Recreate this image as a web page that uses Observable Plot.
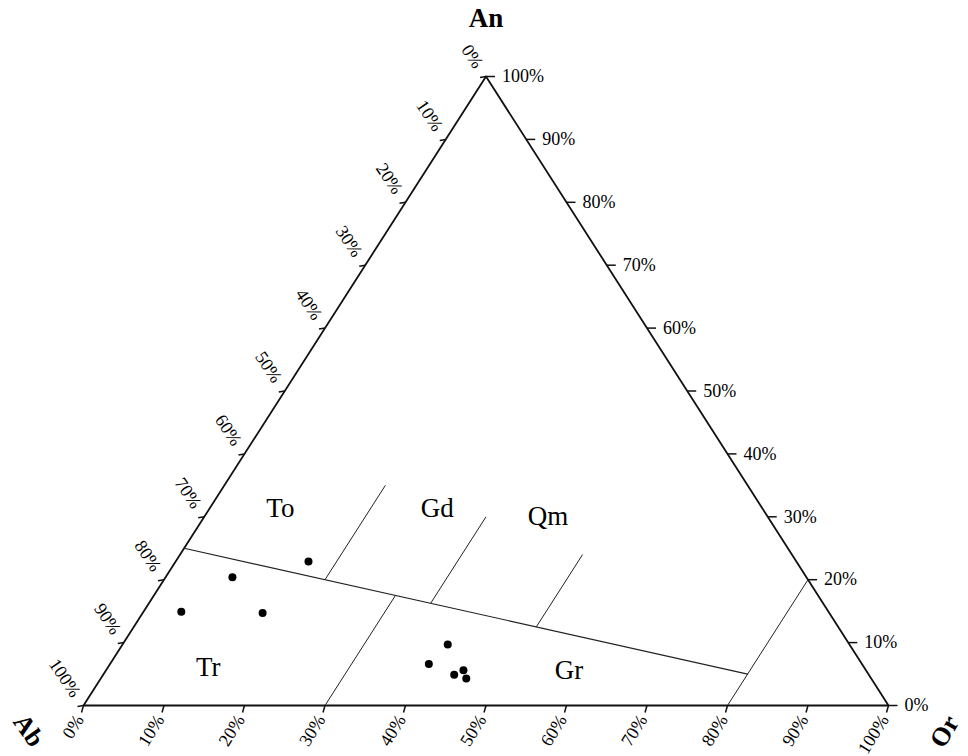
<!DOCTYPE html>
<html>
<head>
<meta charset="utf-8">
<script src="https://cdn.jsdelivr.net/npm/d3@7"></script>
<script src="https://cdn.jsdelivr.net/npm/@observablehq/plot@0.6"></script>
<style>
  html, body { margin: 0; padding: 0; background: #fff; }
  #chart svg { display: block; }
</style>
</head>
<body>
<div id="chart"></div>
<script>
// ---- data ----
const tickValues = [0, 10, 20, 30, 40, 50, 60, 70, 80, 90, 100];
const tickLabels = tickValues.map(v => v + "%");

// sample points (An %, Or %), Ab = 100 - An - Or
const sampleAn = [22.9, 20.4, 14.9, 14.7, 9.7, 6.6, 4.9, 5.6, 4.3];
const sampleOr = [16.5, 8.3, 4.7, 14.9, 40.4, 39.6, 43.6, 44.4, 45.4];

// main boundary line (An %, Or %)
const boundaryAn = [25, 5];
const boundaryOr = [0, 80];

// constant-Or field divider segments: Or %, An from, An to
const dividerOr = [80, 30, 20, 35, 50];
const dividerAnFrom = [0, 0, 20, 16.25, 12.5];
const dividerAnTo = [20, 17.5, 35, 30, 24];

// field names with positions (An %, Or %)
const fieldNames = ["To", "Gd", "Qm", "Tr", "Gr"];
const fieldAn = [31.3, 31.3, 30.0, 6.0, 5.6];
const fieldOr = [8.8, 28.3, 42.7, 12.5, 57.5];

const vertexNames = ["An", "Ab", "Or"];

// ---- ternary -> cartesian (unit triangle) ----
const tx = (an, or) => or / 100 + an / 200;
const ty = (an) => an / 100;

const W = 968, H = 756;
const mL = 83, mR = 80, mT = 76, mB = 51;
const px = 1 / (W - mL - mR);   // one pixel in x data units
const py = 1 / (H - mT - mB);   // one pixel in y data units

const triangle = [
  {x: tx(0, 0), y: ty(0)},
  {x: tx(0, 100), y: ty(0)},
  {x: tx(100, 0), y: ty(100)},
  {x: tx(0, 0), y: ty(0)}
];

const samples = sampleAn.map((an, i) => ({x: tx(an, sampleOr[i]), y: ty(an)}));
const boundary = boundaryAn.map((an, i) => ({x: tx(an, boundaryOr[i]), y: ty(an)}));
const dividers = dividerOr.map((or, i) => ({
  x1: tx(dividerAnFrom[i], or), y1: ty(dividerAnFrom[i]),
  x2: tx(dividerAnTo[i], or), y2: ty(dividerAnTo[i])
}));
const fields = fieldNames.map((n, i) => ({name: n, x: tx(fieldAn[i], fieldOr[i]), y: ty(fieldAn[i])}));

// axes
const bottom = tickValues.map((t, i) => ({x: tx(0, t), y: ty(0), label: tickLabels[i]}));
const left = tickValues.map((t, i) => ({x: tx(100 - t, 0), y: ty(100 - t), label: tickLabels[i]}));
const right = tickValues.map((t, i) => ({x: tx(t, 100 - t), y: ty(t), label: tickLabels[i]}));

const serif = "'Liberation Serif', 'DejaVu Serif', serif";

const chart = Plot.plot({
  width: W,
  height: H,
  marginLeft: mL,
  marginRight: mR,
  marginTop: mT,
  marginBottom: mB,
  x: {domain: [0, 1], axis: null},
  y: {domain: [0, 1], axis: null},
  style: {background: "#fff", fontFamily: serif, overflow: "visible"},
  marks: [
    // triangle frame
    Plot.line(triangle, {x: "x", y: "y", stroke: "#111", strokeWidth: 1.8}),
    // field boundaries
    Plot.line(boundary, {x: "x", y: "y", stroke: "#222", strokeWidth: 1.2}),
    Plot.link(dividers, {x1: "x1", y1: "y1", x2: "x2", y2: "y2", stroke: "#222", strokeWidth: 1}),
    // ticks
    Plot.link(bottom, {x1: "x", y1: "y", x2: d => d.x - 2 * px, y2: d => d.y - 7 * py, stroke: "#111", strokeWidth: 1.5}),
    Plot.link(left, {x1: "x", y1: "y", x2: d => d.x - 6 * px, y2: d => d.y - 1 * py, stroke: "#111", strokeWidth: 1.5}),
    Plot.link(right, {x1: "x", y1: "y", x2: d => d.x + 9 * px, y2: "y", stroke: "#111", strokeWidth: 1.5}),
    // tick labels
    Plot.text(bottom, {x: "x", y: "y", text: "label", dx: -4, dy: 11, rotate: -58, textAnchor: "end", fontSize: 18, fill: "#000"}),
    Plot.text(left, {x: "x", y: "y", text: "label", dx: -7, dy: -10, rotate: 56, textAnchor: "end", fontSize: 18, fill: "#000"}),
    Plot.text(right, {x: "x", y: "y", text: "label", dx: 16, textAnchor: "start", fontSize: 18, fill: "#000"}),
    // vertex names
    Plot.text([{name: vertexNames[0], x: tx(100, 0), y: ty(100)}], {x: "x", y: "y", text: "name", dy: -58, fontSize: 27, fontWeight: "bold", fill: "#000"}),
    Plot.text([{name: vertexNames[1], x: tx(0, 0), y: ty(0)}], {x: "x", y: "y", text: "name", dx: -55, dy: 25, rotate: 55, fontSize: 26, fontWeight: "bold", fill: "#000"}),
    Plot.text([{name: vertexNames[2], x: tx(0, 100), y: ty(0)}], {x: "x", y: "y", text: "name", dx: 56, dy: 26, rotate: -60, fontSize: 26, fontWeight: "bold", fill: "#000"}),
    // field names
    Plot.text(fields, {x: "x", y: "y", text: "name", fontSize: 27, fill: "#000"}),
    // samples
    Plot.dot(samples, {x: "x", y: "y", r: 4, fill: "#000", stroke: "none"})
  ]
});

document.getElementById("chart").appendChild(chart);
</script>
</body>
</html>
